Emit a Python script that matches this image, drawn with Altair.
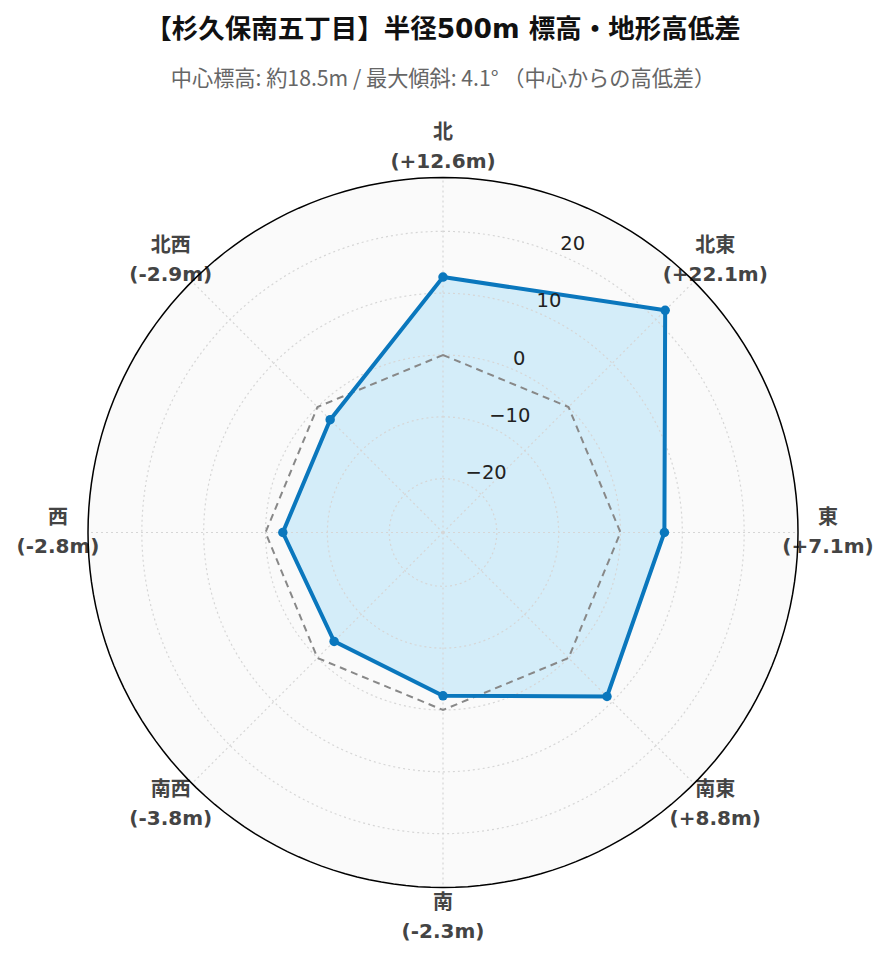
import altair as alt
import pandas as pd

# ---- data ----
directions = ["北", "北東", "東", "南東", "南", "南西", "西", "北西"]
angles_deg = [0, 45, 90, 135, 180, 225, 270, 315]
values = [12.6, 22.1, 7.1, 8.8, -2.3, -3.8, -2.8, -2.9]
ref_values = [0, 0, 0, 0, 0, 0, 0, 0]
grid_values = [-20, -10, 0, 10, 20]
tick_labels = ["−20", "−10", "0", "10", "20"]
r_min, r_max = -28.7, 28.7
tick_angle = 22.5

title_text = "【杉久保南五丁目】半径500m 標高・地形高低差"
subtitle_text = "中心標高: 約18.5m / 最大傾斜: 4.1° （中心からの高低差）"

# ---- layout ----
SPAN = r_max - r_min
R_PX = 355.0
k = R_PX / SPAN
W = 870
T = 101.5          # page y of plot top (measured)
H = 954 - T
cy = 530 - T
x_dom = [-(W / 2) / k, (W / 2) / k]
y_dom = [-(H - cy) / k, cy / k]
LABEL_U = SPAN + 30.0 / k
LINE_H = 29

xs = alt.Scale(domain=x_dom, nice=False, zero=False)
ys = alt.Scale(domain=y_dom, nice=False, zero=False)

CJK = "Noto Sans CJK JP"
MIX = "DejaVu Sans, Noto Sans CJK JP"

df = pd.DataFrame({
    "idx": list(range(len(directions))),
    "dir": directions,
    "ang": angles_deg,
    "value": values,
    "ref": ref_values,
})
df["label"] = [f"{d}\n({v:+.1f}m)" for d, v in zip(directions, values)]

circle_steps = list(range(0, 361, 2))
circ = pd.DataFrame(
    [{"level": lv, "a": a} for lv in grid_values + [r_max] for a in circle_steps]
)
ticks = pd.DataFrame({"v": grid_values, "t": tick_labels})

rmin_s = f"({r_min})"


def polar(chart, ufield_expr, ang_expr):
    return chart.transform_calculate(
        u=ufield_expr
    ).transform_calculate(
        px=f"datum.u * sin(({ang_expr}) * PI / 180)",
        py=f"datum.u * cos(({ang_expr}) * PI / 180)",
    )


X = alt.X("px:Q", scale=xs, axis=None)
Y = alt.Y("py:Q", scale=ys, axis=None)

# background disc
bg = polar(alt.Chart(circ), f"datum.level - {rmin_s}", "datum.a").transform_filter(
    f"datum.level == {r_max}"
).mark_line(interpolate="linear-closed", fill="#fafafa", strokeOpacity=0).encode(
    x=X, y=Y, order=alt.Order("a:Q")
)

# data polygon fill
area = polar(alt.Chart(df), f"datum.value - {rmin_s}", "datum.ang").mark_line(
    interpolate="linear-closed", fill="#d4edf9", strokeOpacity=0
).encode(x=X, y=Y, order=alt.Order("idx:Q"))

# grid circles
grid = polar(alt.Chart(circ), f"datum.level - {rmin_s}", "datum.a").transform_filter(
    f"datum.level != {r_max}"
).mark_line(color="#d6d6d6", strokeWidth=1.2, strokeDash=[2, 3]).encode(
    x=X, y=Y, detail="level:N", order=alt.Order("a:Q")
)

# spokes
spokes = alt.Chart(df).transform_calculate(
    x0="0", y0="0",
    px=f"{SPAN} * sin(datum.ang * PI / 180)",
    py=f"{SPAN} * cos(datum.ang * PI / 180)",
).mark_rule(color="#d6d6d6", strokeWidth=1.2, strokeDash=[2, 3]).encode(
    x=alt.X("x0:Q", scale=xs, axis=None), y=alt.Y("y0:Q", scale=ys, axis=None),
    x2="px:Q", y2="py:Q",
)

# reference (0 m) dashed octagon
ref = polar(alt.Chart(df), f"datum.ref - {rmin_s}", "datum.ang").mark_line(
    interpolate="linear-closed", color="#888888", strokeWidth=2, strokeDash=[7, 5]
).encode(x=X, y=Y, order=alt.Order("idx:Q"))

# data outline
outline = polar(alt.Chart(df), f"datum.value - {rmin_s}", "datum.ang").mark_line(
    interpolate="linear-closed", color="#0a77bd", strokeWidth=4, strokeJoin="miter"
).encode(x=X, y=Y, order=alt.Order("idx:Q"))

pts = polar(alt.Chart(df), f"datum.value - {rmin_s}", "datum.ang").mark_circle(
    color="#0a77bd", size=90, opacity=1
).encode(x=X, y=Y)

# direction labels
labels = polar(alt.Chart(df), f"{LABEL_U}", "datum.ang").mark_text(
    font=MIX, fontWeight="bold", fontSize=20, color="#444444",
    lineBreak="\n", lineHeight=LINE_H, align="center", baseline="middle",
    dy=-LINE_H / 2,
).encode(x=X, y=Y, text="label:N")

# outer circle
outer = polar(alt.Chart(circ), f"datum.level - {rmin_s}", "datum.a").transform_filter(
    f"datum.level == {r_max}"
).mark_line(interpolate="linear-closed", color="#000000", strokeWidth=1.5).encode(
    x=X, y=Y, order=alt.Order("a:Q")
)

# radial tick labels
tick_text = polar(alt.Chart(ticks), f"datum.v - {rmin_s}", f"{tick_angle}").mark_text(
    font="DejaVu Sans", fontSize=19.5, color="#222222", align="left",
    baseline="middle", dx=2, dy=-10,
).encode(x=X, y=Y, text="t:N")

chart = alt.layer(
    bg, area, grid, spokes, ref, outline, pts, labels, outer, tick_text
).properties(
    width=W, height=H,
    padding={"top": 8, "left": 0, "right": 0, "bottom": 0},
    title=alt.Title(
        title_text, subtitle=subtitle_text, anchor="middle",
        font=MIX, fontSize=26.5, fontWeight="bold", color="#111111",
        subtitleFont=CJK, subtitleFontSize=21.2, subtitleColor="#666666",
        subtitlePadding=25.5, offset=14,
    ),
).configure_view(strokeWidth=0)

chart.save("out.html", embed_options={"renderer": "svg", "actions": False})
